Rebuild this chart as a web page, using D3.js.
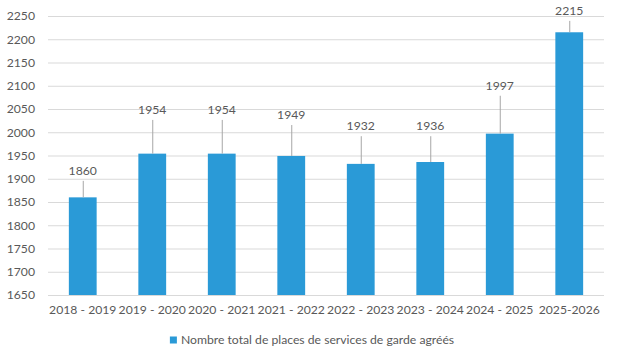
<!DOCTYPE html>
<html>
<head>
<meta charset="utf-8">
<script src="https://cdnjs.cloudflare.com/ajax/libs/d3/7.8.5/d3.min.js"></script>
<style>
  body { margin: 0; background: #fff; }
  text { font-family: Lato, "Open Sans", sans-serif; fill: #595959; }
</style>
</head>
<body>
<svg id="chart" width="620" height="362"></svg>
<script>
var categories = ['2018 - 2019', '2019 - 2020', '2020 - 2021', '2021 - 2022', '2022 - 2023', '2023 - 2024', '2024 - 2025', '2025-2026']
var places = [1860, 1954, 1954, 1949, 1932, 1936, 1997, 2215]
// how far above the bar each data label was dragged (in axis units)
var labelLift = [57, 94, 94, 88, 81, 77, 103, 46]
var yTicks = [1650, 1700, 1750, 1800, 1850, 1900, 1950, 2000, 2050, 2100, 2150, 2200, 2250]
var seriesName = 'Nombre total de places de services de garde agréés'

var barColor = '#2a9ad7'
var fontSize = '12.2px'

var svg = d3.select('#chart')

var x = d3.scaleBand()
  .domain(categories)
  .range([48, 604])
  .paddingInner(0.6)
  .paddingOuter(0.3)

var y = d3.scaleLinear()
  .domain([1650, 2250])
  .range([295, 16])

// gridlines
svg.append('g')
  .selectAll('line')
  .data(yTicks)
  .join('line')
  .attr('x1', 48).attr('x2', 604)
  .attr('y1', d => y(d) + 0.5).attr('y2', d => y(d) + 0.5)
  .attr('stroke', '#d9d9d9')
  .attr('stroke-width', 1)

// y axis labels
var yAxis = d3.axisLeft(y).tickValues(yTicks).tickFormat(d3.format('d')).tickSize(0).tickPadding(0)
svg.append('g')
  .attr('transform', 'translate(35,0)')
  .call(yAxis)
  .call(g => g.select('.domain').remove())
  .selectAll('text')
  .style('font-size', fontSize)
  .style('font-family', 'Lato, "Open Sans", sans-serif')
  .attr('fill', '#595959')

// bars
var data = categories.map((c, i) => ({cat: c, value: places[i], lift: labelLift[i]}))

svg.append('g')
  .selectAll('rect')
  .data(data)
  .join('rect')
  .attr('x', d => x(d.cat))
  .attr('width', x.bandwidth())
  .attr('y', d => y(d.value))
  .attr('height', d => y(1650) - y(d.value))
  .attr('fill', barColor)

// x axis labels
var xAxis = d3.axisBottom(x).tickSize(0).tickPadding(0)
svg.append('g')
  .attr('transform', 'translate(0,305)')
  .call(xAxis)
  .call(g => g.select('.domain').remove())
  .selectAll('text')
  .style('font-size', fontSize)
  .style('font-family', 'Lato, "Open Sans", sans-serif')
  .attr('fill', '#595959')

// data labels with leader lines
var lab = svg.append('g').selectAll('g')
  .data(data)
  .join('g')
  .attr('transform', d => `translate(${x(d.cat) + x.bandwidth() / 2},0)`)

lab.append('line')
  .attr('x1', 0.5).attr('x2', 0.5)
  .attr('y1', d => y(d.value + d.lift) + 10)
  .attr('y2', d => y(d.value))
  .attr('stroke', '#a6a6a6')
  .attr('stroke-width', 1)

lab.append('text')
  .attr('y', d => y(d.value + d.lift))
  .attr('dy', '0.35em')
  .attr('text-anchor', 'middle')
  .style('font-size', fontSize)
  .text(d => d.value)

// legend
var leg = svg.append('g').attr('transform', 'translate(312,340)')
var legText = leg.append('text')
  .attr('x', 0)
  .attr('dy', '0.35em')
  .style('font-size', fontSize)
  .text(seriesName)
var tw = legText.node().getComputedTextLength()
var total = 7 + 4 + tw
legText.attr('x', -total / 2 + 11)
leg.append('rect')
  .attr('x', -total / 2)
  .attr('y', -3.5)
  .attr('width', 7)
  .attr('height', 7)
  .attr('fill', barColor)
</script>
</body>
</html>
